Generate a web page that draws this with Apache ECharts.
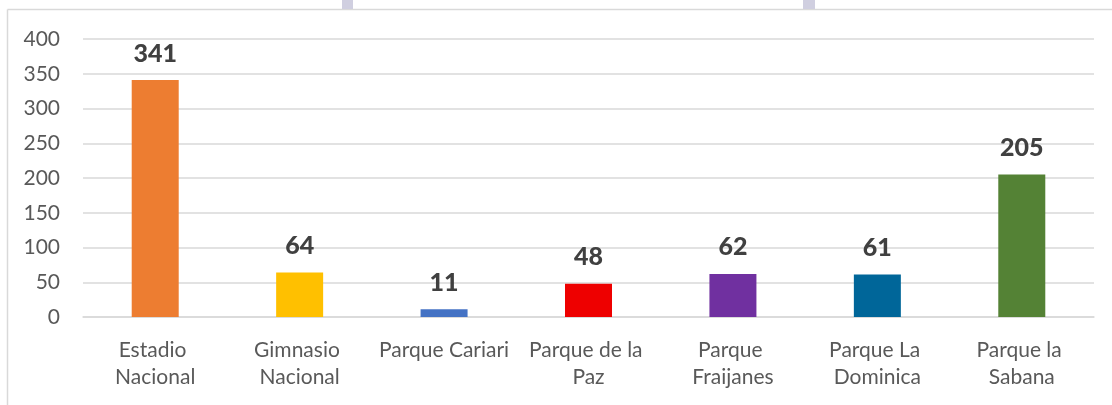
<html>
<head>
	<meta charset="utf-8">
	<title>Parques</title>
	<script src="https://cdn.jsdelivr.net/npm/echarts@6/dist/echarts.min.js"></script>
	<style>
		html, body { margin: 0; padding: 0; background: #fff; }
		#chart { width: 1112px; height: 405px; }
	</style>
</head>
<body>
	<div id="chart"></div>
	<script type="text/javascript">
		var categories = ['Estadio Nacional', 'Gimnasio Nacional', 'Parque Cariari', 'Parque de la Paz',
			'Parque Fraijanes', 'Parque La Dominica', 'Parque la Sabana'];
		var values = [341, 64, 11, 48, 62, 61, 205];
		var barColors = ['#ED7D31', '#FFC000', '#4472C4', '#EE0000', '#7030A0', '#006699', '#548235'];
		var yTicks = [0, 50, 100, 150, 200, 250, 300, 350, 400];

		var chart = echarts.init(document.getElementById('chart'));
		var font = 'Lato, "Liberation Sans", sans-serif';

		chart.setOption({
			animation: false,
			// frame of the original picture (cropped)
			graphic: [
				{ type: 'line', shape: { x1: 7.5, y1: 9.5, x2: 1112, y2: 9.5 }, style: { stroke: '#d9d9d9', lineWidth: 1.5 } },
				{ type: 'line', shape: { x1: 7.5, y1: 9.5, x2: 7.5, y2: 405 }, style: { stroke: '#d9d9d9', lineWidth: 1.5 } },
				{ type: 'rect', shape: { x: 342, y: 0, width: 11, height: 9 }, style: { fill: '#d0cfe0' } },
				{ type: 'rect', shape: { x: 803, y: 0, width: 12, height: 9 }, style: { fill: '#d0cfe0' } }
			],
			grid: { left: 83, right: 18, top: 39, bottom: 88 },
			xAxis: {
				type: 'category',
				data: categories,
				axisTick: { show: false },
				axisLine: { lineStyle: { color: '#d9d9d9', width: 1.5 } },
				axisLabel: {
					color: '#595959', fontFamily: font, fontSize: 21, lineHeight: 27,
					margin: 20, interval: 0, width: 138, overflow: 'break'
				}
			},
			yAxis: {
				type: 'value',
				min: yTicks[0],
				max: yTicks[yTicks.length - 1],
				interval: 50,
				axisLine: { show: false },
				axisTick: { show: false },
				splitLine: { lineStyle: { color: '#d9d9d9', width: 1.5 } },
				axisLabel: { color: '#595959', fontFamily: font, fontSize: 21, margin: 23 }
			},
			series: [{
				type: 'bar',
				barWidth: 47,
				data: values.map(function (v, i) {
					return { value: v, itemStyle: { color: barColors[i] } };
				}),
				label: {
					show: true, position: 'top', distance: 14,
					color: '#404040', fontFamily: font, fontWeight: 900, fontSize: 25
				}
			}]
		});
	</script>
</body>
</html>
